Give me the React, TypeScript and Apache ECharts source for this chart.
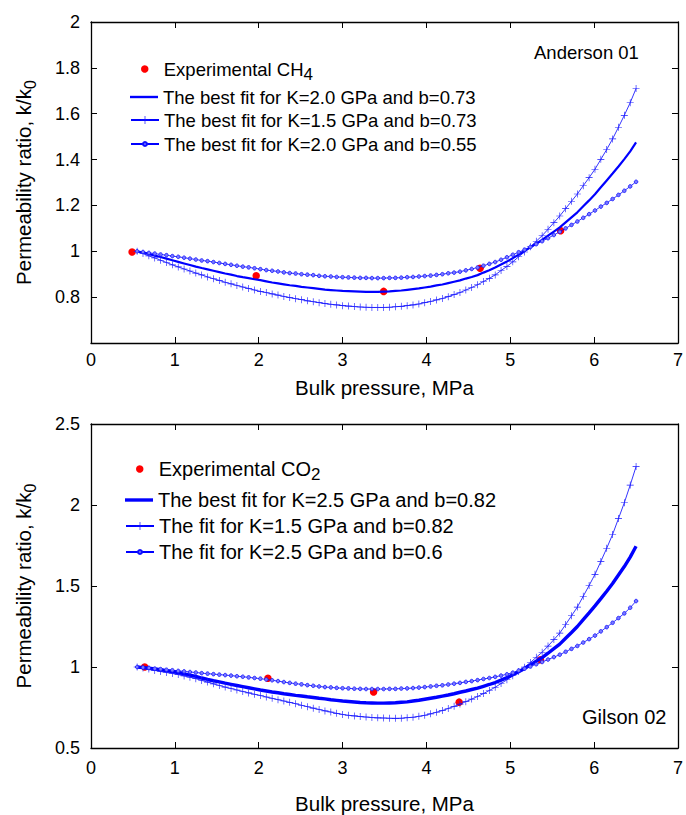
import React, { useEffect, useRef } from "react";
import * as echarts from "echarts";

const X = [0.55,0.62,0.69,0.76,0.83,0.90,0.97,1.04,1.11,1.18,1.25,1.32,1.39,1.46,1.53,1.60,1.67,1.74,1.81,1.88,1.95,2.02,2.09,2.16,2.23,2.30,2.37,2.44,2.51,2.58,2.65,2.72,2.79,2.86,2.93,3.00,3.07,3.14,3.21,3.28,3.35,3.42,3.49,3.56,3.63,3.70,3.77,3.84,3.91,3.98,4.05,4.12,4.19,4.26,4.33,4.40,4.47,4.54,4.61,4.68,4.75,4.82,4.89,4.96,5.03,5.10,5.17,5.24,5.31,5.38,5.45,5.52,5.59,5.66,5.73,5.80,5.87,5.94,6.01,6.08,6.15,6.22,6.29,6.36,6.43,6.50];

// Top chart (Anderson 01, CH4)
const CH4_X = [0.49, 1.97, 3.49, 4.64, 5.6];
const CH4_Y = [0.997, 0.893, 0.825, 0.926, 1.09];
const TOP_BEST = [1.000,.994,.988,.981,.975,.968,.961,.954,.947,.940,.933,.927,.921,.915,.909,.903,.898,.892,.887,.883,.878,.874,.869,.864,.860,.856,.852,.849,.845,.842,.839,.836,.833,.831,.829,.827,.826,.825,.824,.823,.823,.823,.824,.825,.827,.829,.832,.835,.838,.842,.846,.851,.855,.861,.867,.873,.881,.888,.896,.907,.917,.929,.942,.955,.970,.985,1.001,1.017,1.034,1.050,1.068,1.086,1.104,1.126,1.148,1.170,1.196,1.222,1.249,1.279,1.309,1.339,1.370,1.402,1.436,1.475];
const TOP_K15 = [1.000,.990,.980,.971,.961,.951,.941,.932,.923,.914,.905,.897,.888,.880,.873,.865,.858,.851,.844,.838,.831,.825,.820,.814,.809,.803,.798,.793,.789,.784,.780,.776,.772,.769,.766,.763,.761,.759,.757,.756,.755,.755,.755,.756,.758,.760,.763,.766,.770,.776,.781,.788,.794,.802,.811,.820,.831,.842,.854,.868,.882,.897,.916,.934,.954,.976,.997,1.020,1.044,1.068,1.096,1.125,1.154,1.186,1.218,1.250,1.286,1.321,1.358,1.401,1.444,1.490,1.541,1.593,1.648,1.710];
const TOP_B055 = [1.000,.997,.993,.990,.986,.983,.979,.976,.972,.968,.964,.960,.957,.953,.949,.945,.941,.937,.933,.930,.926,.922,.918,.915,.912,.908,.905,.903,.900,.898,.896,.893,.891,.890,.888,.887,.886,.885,.884,.884,.883,.883,.883,.884,.884,.885,.887,.888,.890,.892,.894,.897,.900,.904,.907,.911,.917,.923,.929,.937,.945,.953,.963,.974,.985,.996,1.007,1.019,1.031,1.044,1.057,1.071,1.085,1.100,1.115,1.130,1.146,1.162,1.178,1.195,1.211,1.228,1.246,1.264,1.283,1.303];

// Bottom chart (Gilson 02, CO2)
const CO2_X = [0.64, 2.11, 3.37, 4.39, 5.36];
const CO2_Y = [1.0, 0.931, 0.846, 0.783, 1.045];
const BOT_BEST = [1.000,.996,.992,.988,.983,.978,.972,.966,.958,.950,.942,.932,.923,.915,.908,.900,.893,.886,.879,.872,.865,.858,.852,.846,.841,.835,.830,.825,.821,.816,.812,.807,.803,.798,.794,.790,.787,.784,.781,.779,.778,.777,.777,.778,.779,.782,.785,.790,.795,.801,.807,.813,.820,.827,.835,.844,.852,.861,.870,.881,.892,.904,.919,.934,.952,.971,.991,1.013,1.036,1.058,1.085,1.113,1.141,1.177,1.213,1.250,1.292,1.334,1.377,1.422,1.468,1.515,1.568,1.620,1.678,1.745];
const BOT_K15 = [1.000,.994,.987,.979,.972,.966,.960,.953,.945,.937,.928,.917,.907,.896,.886,.876,.867,.858,.849,.840,.832,.824,.815,.807,.798,.790,.782,.773,.764,.755,.746,.738,.729,.722,.714,.707,.702,.698,.694,.691,.688,.686,.685,.684,.683,.684,.687,.690,.696,.702,.711,.721,.731,.744,.757,.771,.786,.802,.818,.836,.855,.875,.898,.921,.946,.972,.999,1.028,1.060,1.091,1.129,1.169,1.209,1.262,1.316,1.370,1.437,1.503,1.572,1.652,1.733,1.818,1.916,2.014,2.123,2.237];
const BOT_B06 = [1.000,.997,.994,.990,.987,.983,.980,.976,.973,.969,.966,.962,.959,.956,.953,.950,.947,.943,.940,.936,.932,.928,.923,.918,.913,.907,.902,.897,.893,.888,.884,.880,.876,.874,.871,.869,.868,.866,.865,.864,.864,.864,.864,.865,.865,.867,.868,.870,.873,.876,.880,.884,.887,.892,.897,.902,.908,.913,.919,.926,.932,.939,.947,.955,.965,.978,.990,1.003,1.017,1.031,1.046,1.061,1.076,1.094,1.112,1.130,1.151,1.172,1.194,1.220,1.246,1.273,1.302,1.331,1.366,1.407];

const X_TICKS = [0, 7, 1];
const TOP_Y = [0.6, 2, 0.2];
const BOT_Y = [0.5, 2.5, 0.5];

const NAMES = {
  ch4: "Experimental CH4",
  t1: "The best fit for K=2.0 GPa and b=0.73",
  t2: "The best fit for K=1.5 GPa and b=0.73",
  t3: "The best fit for K=2.0 GPa and b=0.55",
  co2: "Experimental CO2",
  b1: "The best fit for K=2.5 GPa and b=0.82",
  b2: "The fit for K=1.5 GPa and b=0.82",
  b3: "The fit for K=2.5 GPa and b=0.6",
};

const FONT = '"Liberation Sans", Arial, Helvetica, sans-serif';
const BLUE = "#0000ff";
const PLUS = "path://M0,4.55H10V5.45H0Z M4.55,0H5.45V10H4.55Z";

const pairs = (xs: number[], ys: number[]) => xs.map((x, i) => [x, ys[i]]);

function axisCommon() {
  return {
    type: "value",
    splitLine: { show: false },
    axisLine: { show: true, onZero: false, lineStyle: { color: "#000", width: 1.3 } },
    axisTick: { show: true, inside: true, length: 6, lineStyle: { color: "#000", width: 1 } },
  };
}

export default function App() {
  const ref = useRef<HTMLDivElement>(null);
  useEffect(() => {
    if (!ref.current) return;
    const chart = echarts.init(ref.current, null, { renderer: "svg" });

    const xAx = (grid: number, pos: string, margin: number, gap: number) => ({
      ...axisCommon(),
      gridIndex: grid,
      position: pos,
      min: X_TICKS[0],
      max: X_TICKS[1],
      interval: X_TICKS[2],
      axisLabel: pos === "bottom"
        ? { show: true, margin, fontSize: 18, color: "#000", fontFamily: FONT }
        : { show: false },
      name: pos === "bottom" ? "Bulk pressure, MPa" : "",
      nameLocation: "middle",
      nameGap: gap,
      nameTextStyle: { fontSize: 20.5, color: "#000", fontFamily: FONT },
    });
    const yAx = (grid: number, pos: string, r: number[], hideMin: boolean) => ({
      ...axisCommon(),
      gridIndex: grid,
      position: pos,
      min: r[0],
      max: r[1],
      interval: r[2],
      axisLabel: pos === "left"
        ? {
            show: true, margin: 11, fontSize: 18, color: "#000", fontFamily: FONT,
            formatter: (v: number) => (hideMin && Math.abs(v - r[0]) < 1e-6 ? "" : String(Math.round(v * 100) / 100)),
          }
        : { show: false },
      name: pos === "left" ? "Permeability ratio, k/k{sub|0}" : "",
      nameLocation: "middle",
      nameRotate: 90,
      nameGap: 53,
      nameTextStyle: {
        fontSize: 20.5, color: "#000", fontFamily: FONT, lineHeight: 30,
        rich: {
          sub: { fontSize: 16, lineHeight: 12, verticalAlign: "bottom", color: "#000", fontFamily: FONT },
        },
      },
    });

    const lineBest = (name: string, data: number[], xi: number, w: number) => ({
      type: "line", name, xAxisIndex: xi, yAxisIndex: xi,
      data: pairs(X, data), symbol: "none",
      lineStyle: { color: BLUE, width: w }, itemStyle: { color: BLUE },
    });
    const linePlus = (name: string, data: number[], xi: number) => ({
      type: "line", name, xAxisIndex: xi, yAxisIndex: xi,
      data: pairs(X, data), symbol: PLUS, symbolSize: 7, showAllSymbol: true,
      lineStyle: { color: BLUE, width: 0.8 }, itemStyle: { color: "#1a1aff" },
    });
    const lineDot = (name: string, data: number[], xi: number) => ({
      type: "line", name, xAxisIndex: xi, yAxisIndex: xi,
      data: pairs(X, data), symbol: "circle", symbolSize: 3.6, showAllSymbol: true,
      lineStyle: { color: BLUE, width: 0.8 },
      itemStyle: { color: "#7a7aff", borderColor: "#1010ff", borderWidth: 0.8 },
    });
    const scat = (name: string, xs: number[], ys: number[], xi: number) => ({
      type: "scatter", name, xAxisIndex: xi, yAxisIndex: xi,
      data: pairs(xs, ys), symbol: "circle", symbolSize: 7.5,
      itemStyle: { color: "#ff0000", opacity: 1 },
    });

    const leg = (name: string, left: number, top: number, fs: number, opts: any = {}) => ({
      data: [name], left, top, padding: 0, itemWidth: 28, selectedMode: false,
      orient: "vertical", itemGap: 0,
      textStyle: {
        fontSize: fs, color: "#000", fontFamily: FONT, lineHeight: 20,
        rich: {
          m: { fontSize: fs, lineHeight: 28, color: "#000", fontFamily: FONT },
          sub: { fontSize: 17, lineHeight: 12, verticalAlign: "bottom", color: "#000", fontFamily: FONT },
        },
      },
      ...opts,
    });
    const subFmt = (n: string) => "{m|" + n.slice(0, -1) + "}{sub|" + n.slice(-1) + "}";

    const option: any = {
      animation: false,
      backgroundColor: "#fff",
      textStyle: { fontFamily: FONT },
      grid: [
        { left: 91, top: 22, width: 590, height: 321 },
        { left: 91, top: 424, width: 594, height: 329 },
      ],
      xAxis: [xAx(0, "bottom", 8, 34), xAx(0, "top", 8, 34), xAx(1, "bottom", 11, 45), xAx(1, "top", 11, 45)],
      yAxis: [yAx(0, "left", TOP_Y, true), yAx(0, "right", TOP_Y, true), yAx(1, "left", BOT_Y, false), yAx(1, "right", BOT_Y, false)],
      legend: [
        leg(NAMES.ch4, 141, 55, 18.5, { itemHeight: 7.5, formatter: subFmt, itemStyle: { opacity: 1 } }),
        leg(NAMES.t1, 130, 87, 18.5, { itemHeight: 2.4, icon: "rect" }),
        leg(NAMES.t2, 130, 110, 18.5, { itemHeight: 10 }),
        leg(NAMES.t3, 130, 134, 18.5, { itemHeight: 5 }),
        leg(NAMES.co2, 136, 455, 20, { itemHeight: 7.5, formatter: subFmt, itemStyle: { opacity: 1 } }),
        leg(NAMES.b1, 125, 490, 20, { itemHeight: 3.4, icon: "rect" }),
        leg(NAMES.b2, 125, 516, 20, { itemHeight: 10 }),
        leg(NAMES.b3, 125, 542, 20, { itemHeight: 5 }),
      ],
      graphic: [
        { type: "text", left: 534, top: 43, style: { text: "Anderson 01", fontSize: 18.5, fontFamily: FONT, fill: "#000" } },
        { type: "text", left: 582, top: 707, style: { text: "Gilson 02", fontSize: 20, fontFamily: FONT, fill: "#000" } },
      ],
      series: [
        lineBest(NAMES.t1, TOP_BEST, 0, 2.2),
        linePlus(NAMES.t2, TOP_K15, 0),
        lineDot(NAMES.t3, TOP_B055, 0),
        scat(NAMES.ch4, CH4_X, CH4_Y, 0),
        scat(NAMES.co2, CO2_X, CO2_Y, 2),
        lineBest(NAMES.b1, BOT_BEST, 2, 3.4),
        linePlus(NAMES.b2, BOT_K15, 2),
        lineDot(NAMES.b3, BOT_B06, 2),
      ],
    };
    chart.setOption(option);
    return () => chart.dispose();
  }, []);

  return (
    <div
      ref={ref}
      style={{ position: "absolute", left: 0, top: 0, width: 686, height: 815, background: "#fff" }}
    />
  );
}
